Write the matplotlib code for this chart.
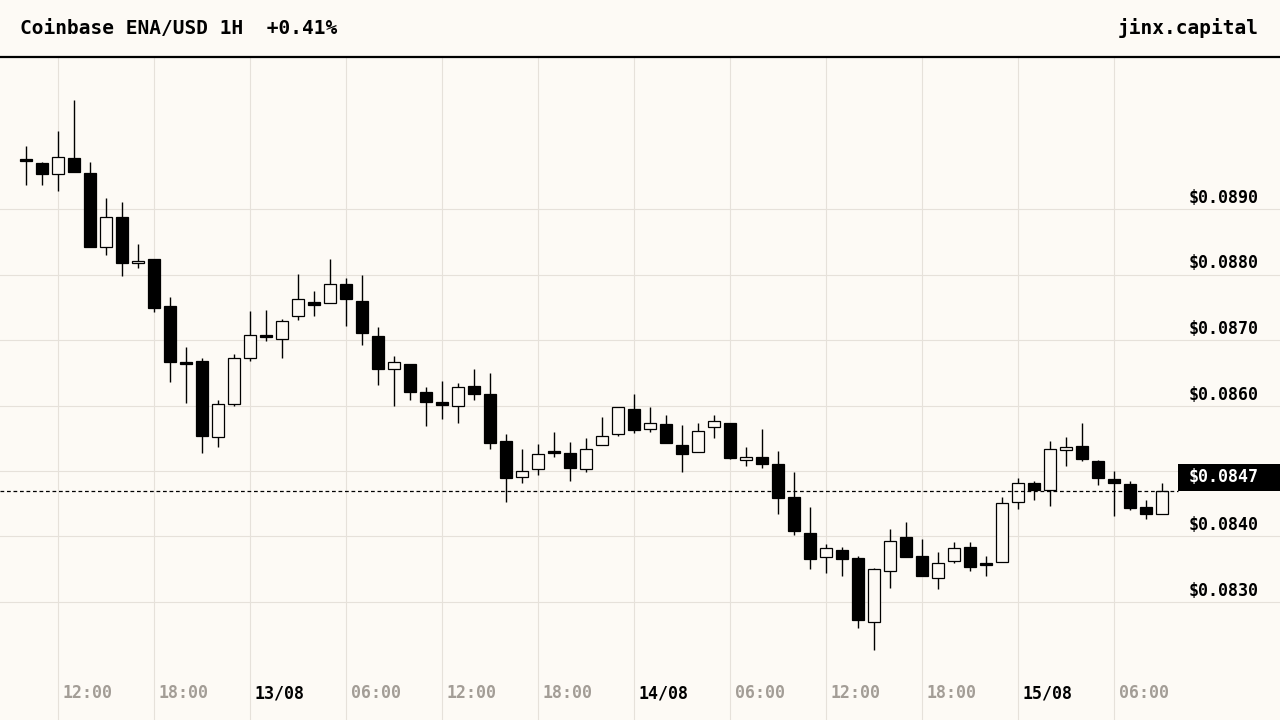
import numpy as np
import pandas as pd
import matplotlib
matplotlib.use("Agg")
import matplotlib.pyplot as plt
import matplotlib.transforms as mtransforms
from matplotlib.patches import Rectangle

# Coinbase ENA/USD, 1H candles, 12/08 10:00 -> 15/08 09:00
times = pd.date_range("2024-08-12 10:00", periods=72, freq="h")

opens = [0.08974, 0.08970, 0.08953, 0.08978, 0.08955, 0.08842, 0.08888, 0.08817,
         0.08824, 0.08752, 0.08664, 0.08668, 0.08552, 0.08603, 0.08672, 0.08706,
         0.08702, 0.08736, 0.08758, 0.08756, 0.08786, 0.08760, 0.08706, 0.08655,
         0.08663, 0.08620, 0.08605, 0.08600, 0.08630, 0.08618, 0.08546, 0.08491,
         0.08503, 0.08527, 0.08527, 0.08503, 0.08539, 0.08556, 0.08594, 0.08564,
         0.08571, 0.08539, 0.08529, 0.08567, 0.08573, 0.08517, 0.08522, 0.08510,
         0.08460, 0.08405, 0.08368, 0.08379, 0.08367, 0.08270, 0.08347, 0.08399,
         0.08370, 0.08336, 0.08362, 0.08384, 0.08358, 0.08361, 0.08452, 0.08482,
         0.08471, 0.08532, 0.08538, 0.08515, 0.08488, 0.08480, 0.08445, 0.08435]
highs = [0.08996, 0.08972, 0.09019, 0.09066, 0.08972, 0.08917, 0.08911, 0.08847,
         0.08824, 0.08766, 0.08689, 0.08673, 0.08608, 0.08678, 0.08744, 0.08746,
         0.08732, 0.08801, 0.08775, 0.08824, 0.08794, 0.08799, 0.08720, 0.08676,
         0.08663, 0.08628, 0.08637, 0.08634, 0.08656, 0.08650, 0.08557, 0.08534,
         0.08541, 0.08560, 0.08544, 0.08550, 0.08582, 0.08597, 0.08618, 0.08598,
         0.08586, 0.08570, 0.08573, 0.08586, 0.08573, 0.08536, 0.08564, 0.08530,
         0.08499, 0.08445, 0.08389, 0.08384, 0.08370, 0.08352, 0.08412, 0.08422,
         0.08396, 0.08376, 0.08392, 0.08392, 0.08370, 0.08460, 0.08489, 0.08484,
         0.08546, 0.08552, 0.08573, 0.08517, 0.08500, 0.08485, 0.08456, 0.08482]
lows = [0.08937, 0.08936, 0.08928, 0.08957, 0.08842, 0.08830, 0.08798, 0.08810,
        0.08743, 0.08636, 0.08604, 0.08528, 0.08537, 0.08600, 0.08668, 0.08699,
        0.08672, 0.08731, 0.08737, 0.08756, 0.08722, 0.08693, 0.08632, 0.08599,
        0.08609, 0.08568, 0.08580, 0.08574, 0.08609, 0.08533, 0.08452, 0.08481,
        0.08494, 0.08522, 0.08484, 0.08499, 0.08539, 0.08553, 0.08558, 0.08559,
        0.08542, 0.08498, 0.08529, 0.08551, 0.08519, 0.08507, 0.08505, 0.08435,
        0.08403, 0.08351, 0.08345, 0.08340, 0.08261, 0.08227, 0.08322, 0.08369,
        0.08339, 0.08320, 0.08360, 0.08348, 0.08339, 0.08361, 0.08442, 0.08456,
        0.08447, 0.08508, 0.08515, 0.08479, 0.08432, 0.08441, 0.08426, 0.08435]
closes = [0.08974, 0.08954, 0.08979, 0.08957, 0.08842, 0.08888, 0.08817, 0.08820,
          0.08749, 0.08667, 0.08664, 0.08554, 0.08602, 0.08672, 0.08707, 0.08704,
          0.08729, 0.08762, 0.08754, 0.08786, 0.08762, 0.08710, 0.08656, 0.08666,
          0.08621, 0.08606, 0.08601, 0.08629, 0.08617, 0.08543, 0.08490, 0.08500,
          0.08526, 0.08527, 0.08504, 0.08533, 0.08553, 0.08597, 0.08562, 0.08573,
          0.08542, 0.08526, 0.08561, 0.08576, 0.08520, 0.08521, 0.08510, 0.08459,
          0.08409, 0.08365, 0.08382, 0.08366, 0.08273, 0.08350, 0.08393, 0.08369,
          0.08339, 0.08359, 0.08382, 0.08354, 0.08356, 0.08451, 0.08481, 0.08471,
          0.08533, 0.08536, 0.08519, 0.08490, 0.08481, 0.08444, 0.08435, 0.08470]

price_levels = [0.0830, 0.0840, 0.0850, 0.0860, 0.0870, 0.0880, 0.0890]
last_price = closes[-1]
title = "Coinbase ENA/USD 1H  +0.41%"
brand = "jinx.capital"

BG = "#fdfaf5"
GRID = "#e6e1da"
MUTED = "#a39d96"
FONT = "DejaVu Sans Mono"

o = np.array(opens)
h = np.array(highs)
l = np.array(lows)
c = np.array(closes)
x = np.arange(len(times))

fig = plt.figure(figsize=(12.8, 7.2), dpi=100, facecolor=BG)
ax = fig.add_axes([0, 0, 1, 663 / 720])
ax.set_facecolor(BG)

px = 1 / 65500  # one pixel in price units
ax.set_xlim(-1.625, 78.375)
ax.set_ylim(0.0890 - 511 * px, 0.0890 + 152 * px)

for s in ["left", "right", "bottom"]:
    ax.spines[s].set_visible(False)
ax.spines["top"].set_color("black")
ax.spines["top"].set_linewidth(1.6)
ax.set_xticks([])
ax.set_yticks([])

# grid
for p in price_levels:
    ax.axhline(p, color=GRID, lw=0.8, zorder=0)
tick_idx = [i for i, t in enumerate(times) if t.hour % 6 == 0]
for i in tick_idx:
    ax.axvline(i, color=GRID, lw=0.8, zorder=0)

# candles
up = c > o
body_lo = np.minimum(o, c)
body_h = np.maximum(np.abs(c - o), 2 * px)
ax.vlines(x, l, h, color="black", lw=1.0, zorder=2)
ax.bar(x, body_h, bottom=body_lo, width=0.75,
       color=np.where(up, BG, "black"), edgecolor="black", linewidth=0.9, zorder=3)

# last price line and tag
ax.hlines(last_price, -1.625, 72, colors="black", lw=0.9, linestyles=(0, (3, 2.2)), zorder=4)
tr = mtransforms.blended_transform_factory(ax.transAxes, ax.transData)
ax.add_patch(Rectangle((1178 / 1280, last_price), 1 - 1178 / 1280, 27 * px,
                       transform=tr, facecolor="black", edgecolor="none", zorder=5))
ax.text(1259 / 1280, last_price + 13.5 * px, f"${last_price:.4f}", transform=tr,
        ha="right", va="center", color="white", fontsize=12, fontweight="bold",
        family=FONT, zorder=6)

# price labels (0.0850 is hidden behind the last price tag)
for p in price_levels:
    if abs(p - last_price) < 0.0005:
        continue
    ax.text(1259 / 1280, p + 11 * px, f"${p:.4f}", transform=tr, ha="right", va="center",
            fontsize=12, fontweight="bold", family=FONT, color="black")

# time labels
trx = mtransforms.blended_transform_factory(ax.transData, ax.transAxes)
for i in tick_idx:
    t = times[i]
    if t.hour == 0:
        lab, col = t.strftime("%d/%m"), "black"
    else:
        lab, col = t.strftime("%H:%M"), MUTED
    ax.text(i + 5 / 16, 27 / 663, lab, transform=trx, ha="left", va="center",
            fontsize=12, fontweight="bold", family=FONT, color=col)

# header
fig.text(20 / 1280, 1 - 28 / 720, title, ha="left", va="center", fontsize=14,
         fontweight="bold", family=FONT, color="black")
fig.text(1259 / 1280, 1 - 28 / 720, brand, ha="right", va="center", fontsize=14,
         fontweight="bold", family=FONT, color="black")

fig.savefig("out.png", dpi=100, facecolor=BG)
